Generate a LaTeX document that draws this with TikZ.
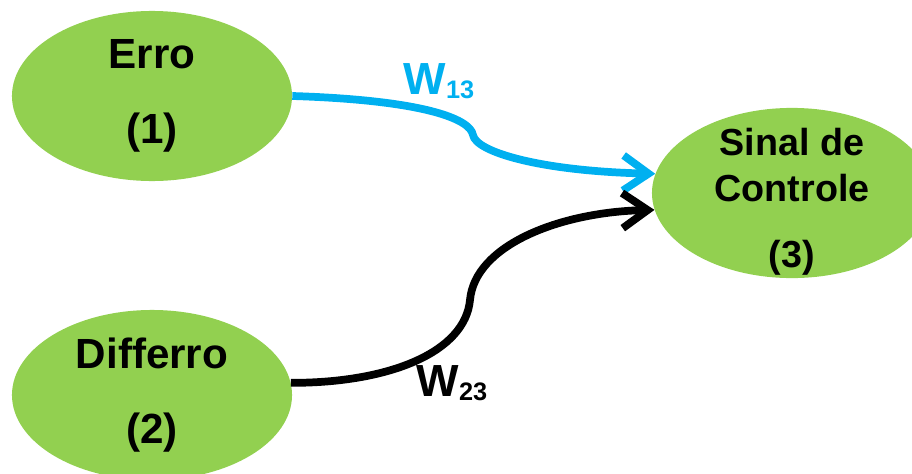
\documentclass[tikz,border=0pt]{standalone}
\usepackage{fontspec}
\setmainfont{Liberation Sans}
\usetikzlibrary{shapes.geometric,arrows.meta}

\definecolor{neurongreen}{RGB}{146,208,80}
\definecolor{weightblue}{RGB}{0,176,240}

% weight label: W with a lowered index
\newcommand\wlabel[1]{W{\fontsize{18}{18}\selectfont\raisebox{-3pt}{#1}}}

\tikzset{
  neuron/.style={ellipse,fill=neurongreen,inner sep=0pt,
    minimum width=7cm,minimum height=4.25cm,align=center,
    font=\fontsize{30}{36}\selectfont\bfseries},
  weight/.style={font=\fontsize{32}{32}\selectfont\bfseries},
  link/.style={line width=5.5pt,-{Straight Barb[length=18pt,width=25pt]}}
}

\begin{document}
\begin{tikzpicture}[x=0.025cm,y=-0.025cm]
     \useasboundingbox (0,0) rectangle (912,473);

     % the three neurons
     \node[neuron] (erro) at (152,96) {Erro\\[17pt](1)};
     \node[neuron] (differro) at (152,395) {Differro\\[17pt](2)};
     \node[neuron,inner ysep=-16pt,font=\fontsize{26.8}{33}\selectfont\bfseries] (sinal)
          at (792,193) {\rule{0pt}{32pt}Sinal de\\Controle\\[14pt](3)};

     % weighted connections
     \coordinate (kinkA) at (473,135);
     \coordinate (kinkB) at (470,300);
     \draw[link,weightblue] (erro.east) .. controls (420,100) and (470,118) .. (kinkA)
          .. controls (476,152) and (540,171) .. (sinal.172);
     \draw[link,black] (differro.5) .. controls (390,383) and (465,352) .. (kinkB)
          .. controls (475,245) and (560,212) .. (sinal.187);

     \node[weight,text=weightblue] (w13) at (439,81) {\wlabel{13}};
     \node[weight] (w23) at (452,383) {\wlabel{23}};
\end{tikzpicture}
\end{document}
